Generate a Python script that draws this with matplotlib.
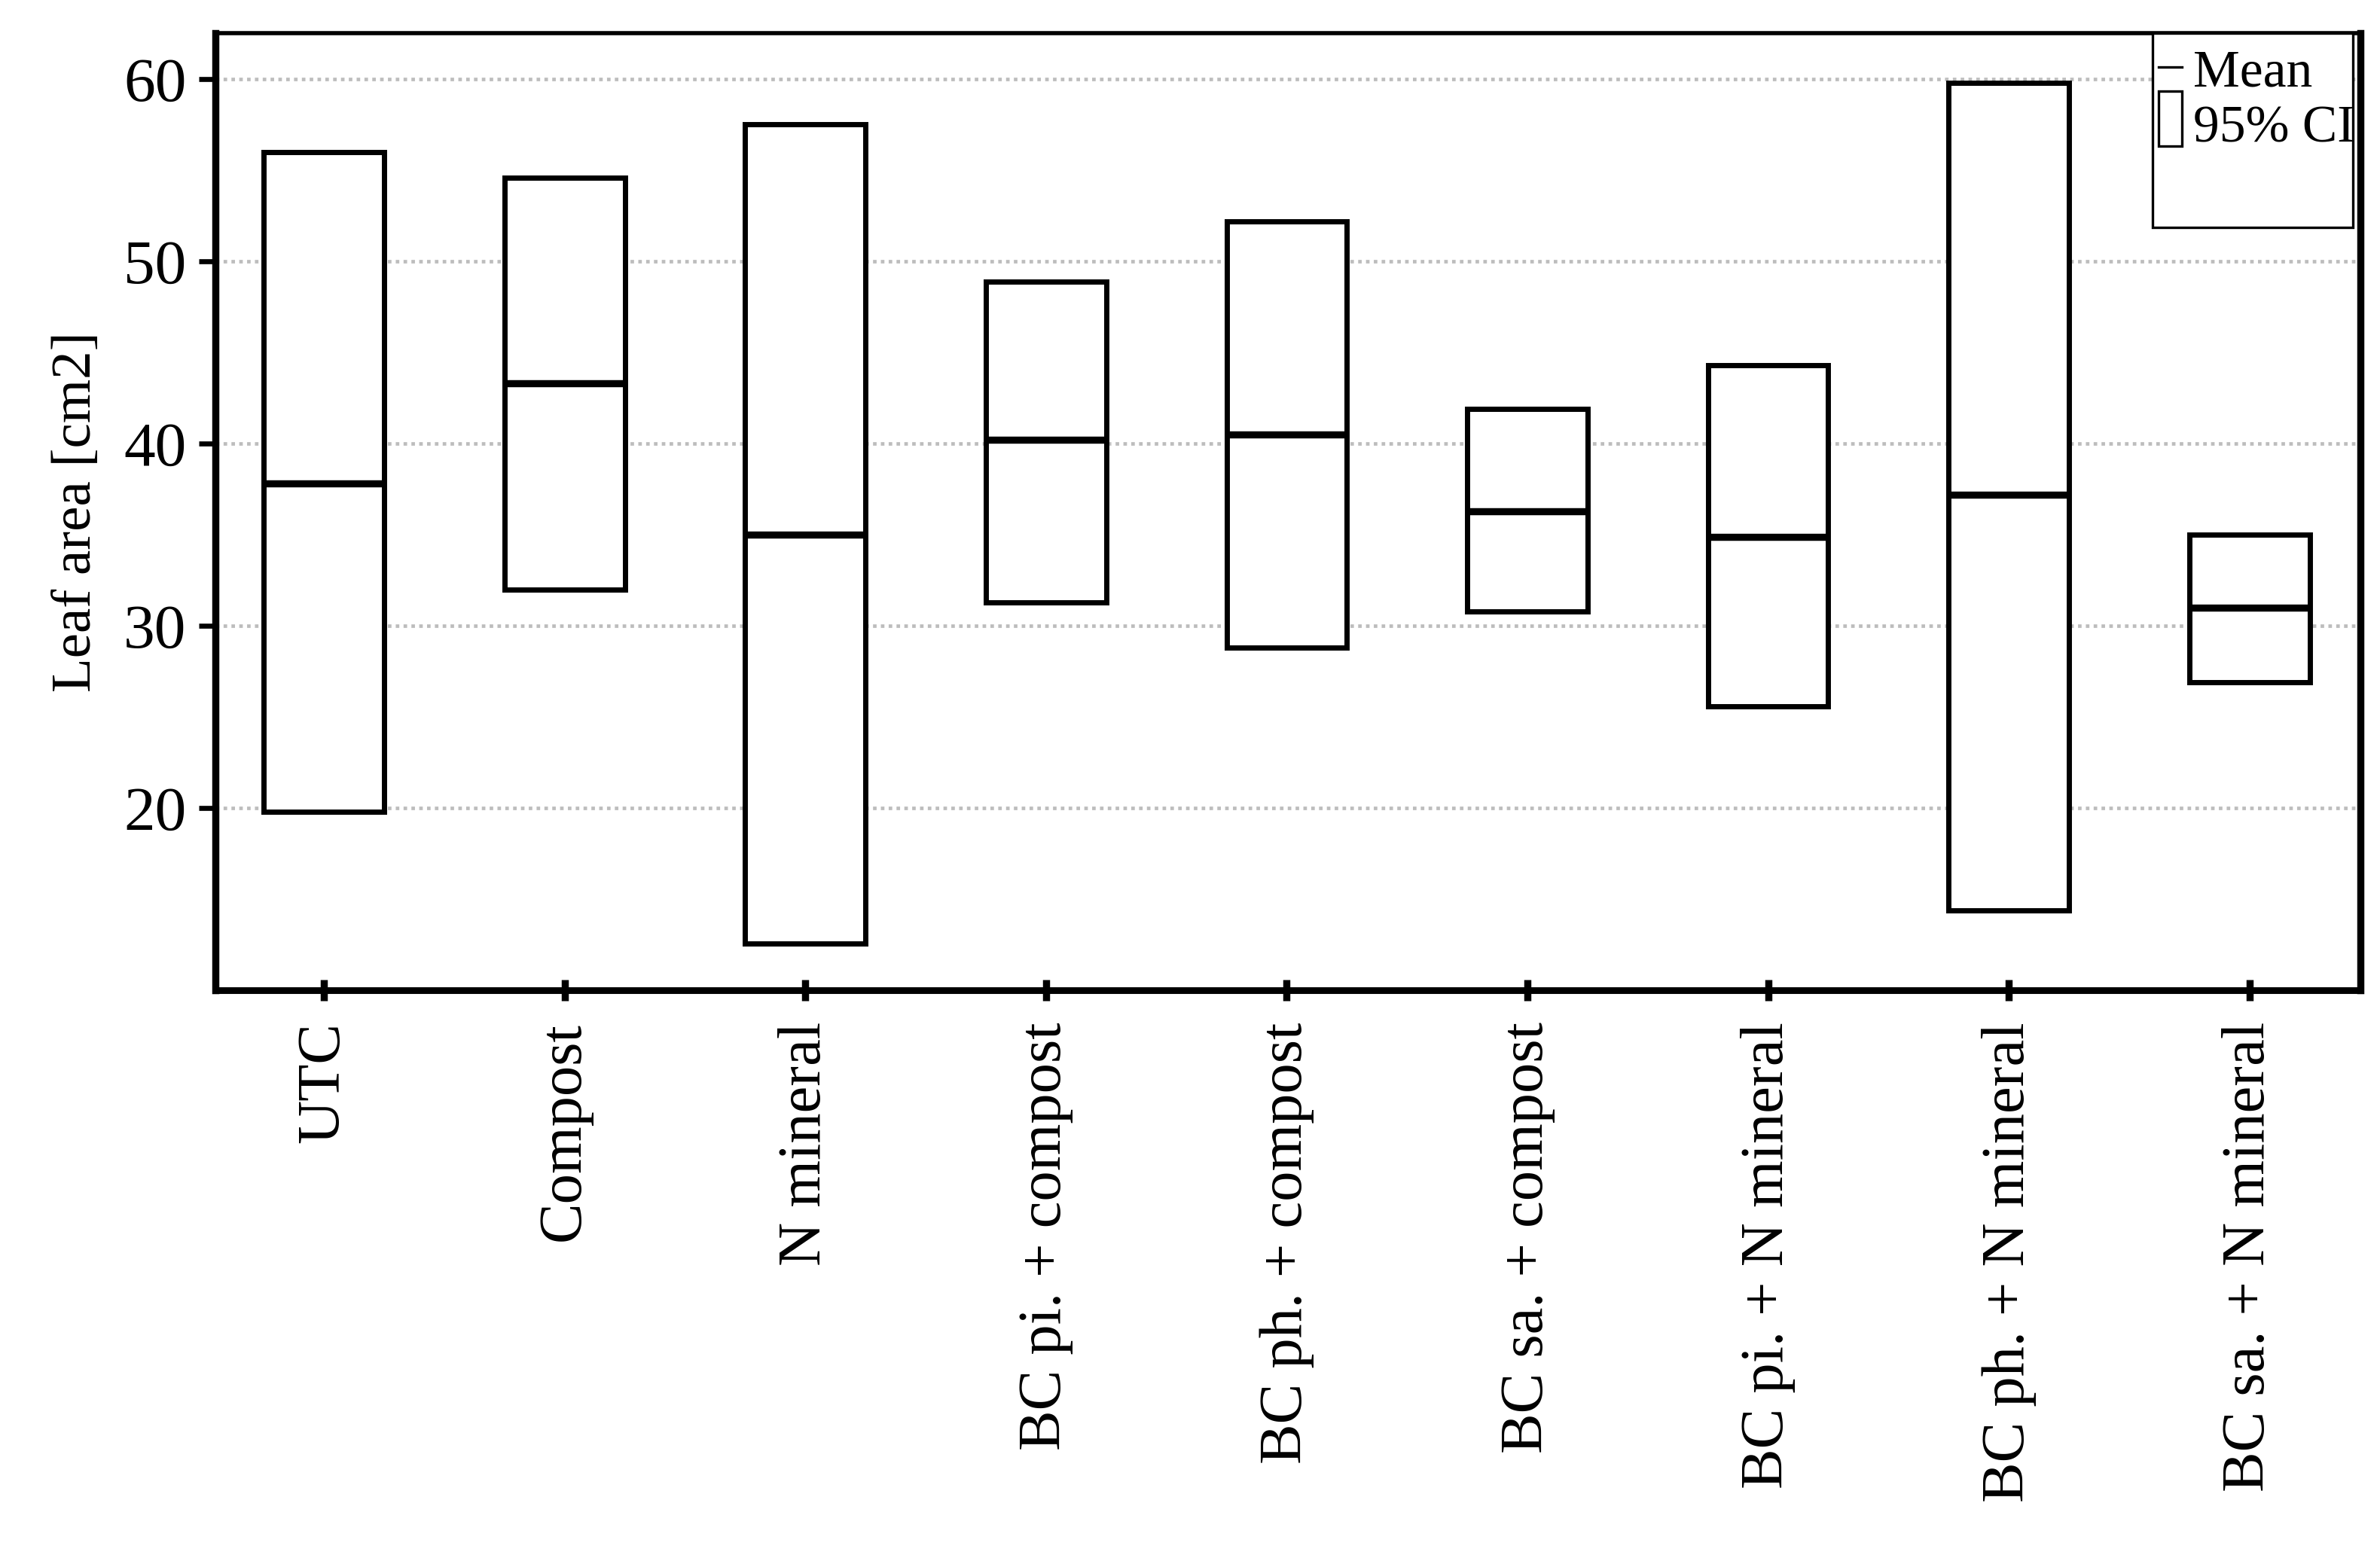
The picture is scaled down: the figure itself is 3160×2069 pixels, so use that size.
"""Leaf area: mean and 95% CI per treatment."""

import numpy as np
from matplotlib import pyplot as plt
from matplotlib.patches import Rectangle

treatments = ['UTC', 'Compost', 'N mineral', 'BC pi. + compost', 'BC ph. + compost',
              'BC sa. + compost', 'BC pi. + N mineral', 'BC ph. + N mineral',
              'BC sa. + N mineral']
mean = [37.8, 43.3, 35.0, 40.2, 40.5, 36.3, 34.9, 37.2, 31.0]
ci_low = [19.8, 32.0, 12.6, 31.3, 28.8, 30.8, 25.6, 14.4, 26.9]
ci_high = [56.0, 54.6, 57.5, 48.9, 52.2, 41.9, 44.3, 59.8, 35.0]
yticks = [20, 30, 40, 50, 60]

FONT = 'Liberation Serif'
plt.rcParams['font.family'] = FONT

fig = plt.figure(figsize=(15.8, 10.345), dpi=200)
ax = fig.add_axes([0.0906, 0.3642, 0.9011, 0.6144])

x = np.arange(len(treatments))
w = 0.5
for xi, m, lo, hi in zip(x, mean, ci_low, ci_high):
    ax.add_patch(Rectangle((xi - w / 2, lo), w, hi - lo, facecolor='white',
                           edgecolor='black', lw=2.5, zorder=3))
    ax.plot([xi - w / 2, xi + w / 2], [m, m], color='black', lw=3.4, zorder=4,
            solid_capstyle='butt')

ax.set_xlim(-0.45, len(treatments) - 0.54)
ax.set_ylim(10, 62.5)
ax.set_yticks(yticks)
ax.set_xticks(x)
ax.set_xticklabels(treatments, rotation=90, va='top', ha='center', fontsize=29)
ax.tick_params(axis='y', labelsize=30, length=8, width=2.4, direction='out', pad=6)
ax.tick_params(axis='x', length=10, width=3.4, direction='inout', pad=10)
ax.set_ylabel('Leaf area [cm2]', fontsize=27, labelpad=10)
ax.grid(axis='y', color='#bdbdbd', ls=(0, (1, 1.2)), lw=1.7, zorder=0)

ax.spines['left'].set_linewidth(3.4)
ax.spines['right'].set_linewidth(3.4)
ax.spines['top'].set_linewidth(2.0)
ax.spines['bottom'].set_linewidth(3.2)

# legend drawn by hand, as in the original
tr = ax.transAxes
ax.add_patch(Rectangle((0.903, 0.797), 0.0935, 0.203, transform=tr, facecolor='white',
                       edgecolor='black', lw=1.2, zorder=5, clip_on=False))
ax.plot([0.906, 0.917], [0.965, 0.965], transform=tr, color='black', lw=1.2, zorder=6)
ax.add_patch(Rectangle((0.906, 0.882), 0.011, 0.058, transform=tr, facecolor='white',
                       edgecolor='black', lw=1.2, zorder=6))
ax.text(0.922, 0.958, 'Mean', transform=tr, fontsize=25, va='center', ha='left', zorder=7)
ax.text(0.922, 0.9, '95% CI', transform=tr, fontsize=25, va='center', ha='left', zorder=7)

plt.savefig('out.png')
plt.close()
